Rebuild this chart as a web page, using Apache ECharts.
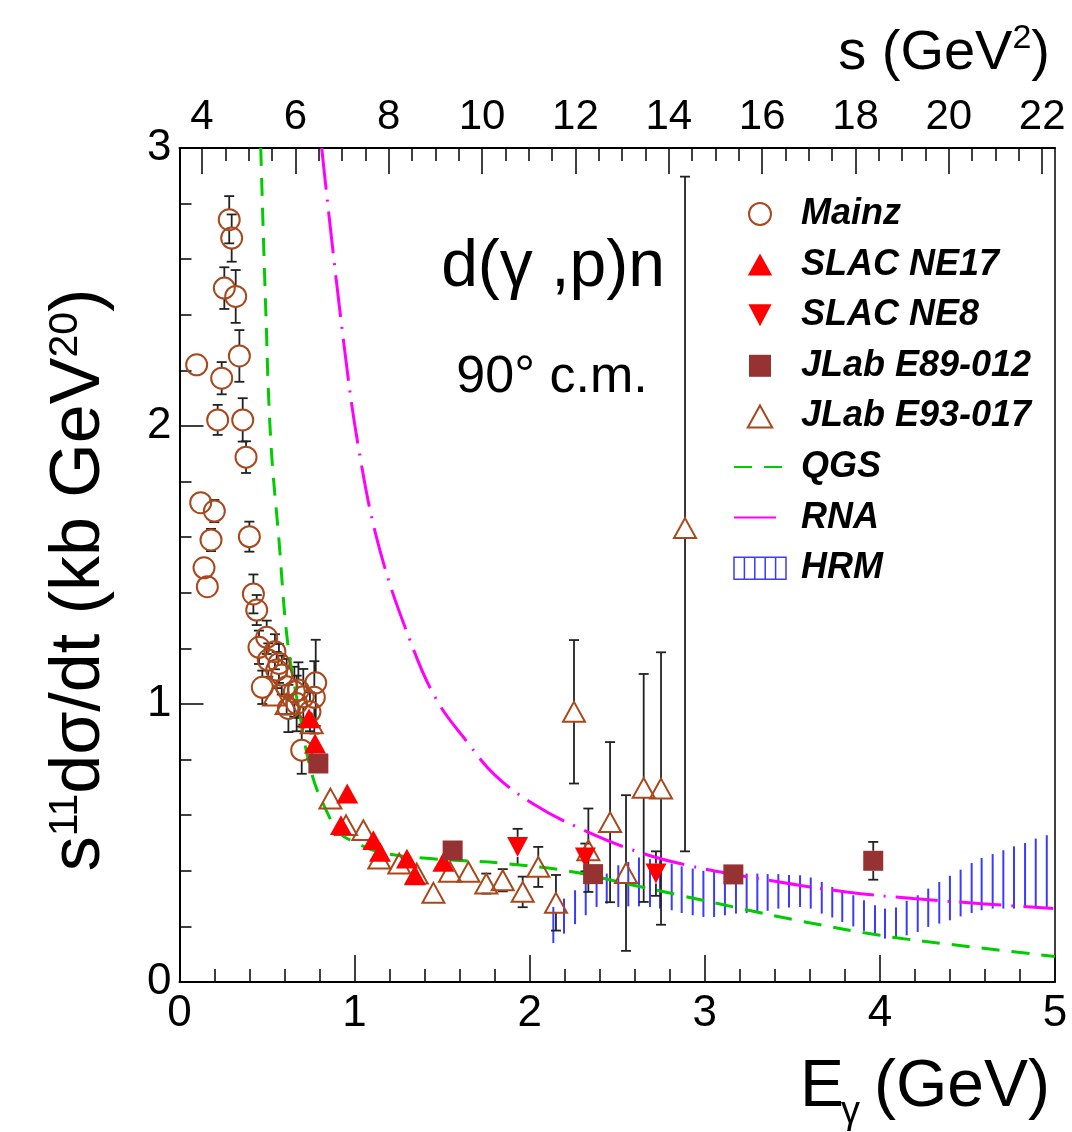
<!DOCTYPE html>
<html>
<head>
<meta charset="utf-8">
<script src="https://cdn.jsdelivr.net/npm/echarts@6/dist/echarts.min.js"></script>
<style>
html,body{margin:0;padding:0;background:#fff;}
#chart{width:1072px;height:1132px;}
</style>
</head>
<body>
<div id="chart"></div>
<script>
// ---------------- DATA ----------------
// Mainz (open circles): photon energy (GeV), value, error
const mainzE   = [0.098,0.121,0.140,0.159,0.180,0.199,0.218,0.241,0.256,0.284,0.298,0.321,0.342,0.361,0.380,0.399,0.422,0.441,0.454,0.473,0.498,0.507,0.545,0.555,0.568,0.584,0.612,0.622,0.656,0.669,0.679,0.707,0.698,0.745,0.770,0.778];
const mainzY   = [2.220,1.724,1.490,1.422,1.590,1.694,2.022,2.172,2.496,2.742,2.676,2.466,2.252,2.022,1.888,1.602,1.396,1.338,1.204,1.060,1.240,1.158,1.188,1.122,1.146,1.104,1.062,0.984,1.044,1.002,1.050,1.026,0.834,0.972,1.024,1.076];
const mainzErr = [0.02,0.02,0.02,0.02,0.04,0.04,0.054,0.058,0.075,0.085,0.085,0.095,0.093,0.078,0.057,0.054,0.07,0.054,0.06,0.06,0.06,0.06,0.063,0.065,0.07,0.07,0.1,0.085,0.09,0.1,0.1,0.1,0.085,0.07,0.13,0.155];

// SLAC NE17 (filled up triangles)
const ne17E = [0.740,0.774,0.922,0.958,1.107,1.145,1.299,1.345,1.507];
const ne17Y = [0.948,0.858,0.564,0.678,0.510,0.468,0.444,0.384,0.432];

// SLAC NE8 (filled down triangles)
const ne8E   = [1.931,2.318,2.721];
const ne8Y   = [0.486,0.448,0.390];
const ne8Err = [0.065,0.05,0.08];

// JLab E89-012 (filled squares)
const e89E   = [0.793,1.560,2.362,3.163,3.962];
const e89Y   = [0.786,0.473,0.388,0.387,0.436];
const e89Err = [0.03,0.03,0.03,0.03,0.068];

// JLab E93-017 (open triangles): value, lower error, upper error
const e93E     = [0.540,0.612,0.755,0.862,0.951,1.050,1.141,1.255,1.355,1.450,1.545,1.650,1.752,1.846,1.960,2.049,2.150,2.253,2.335,2.459,2.550,2.651,2.750,2.887];
const e93Y     = [1.030,1.000,0.930,0.660,0.564,0.546,0.444,0.426,0.390,0.321,0.396,0.396,0.354,0.366,0.324,0.414,0.285,0.972,0.474,0.575,0.392,0.698,0.696,1.633];
const e93ErrLo = [0.03,0.03,0.03,0.03,0.03,0.03,0.03,0.03,0.03,0.03,0.03,0.03,0.036,0.04,0.055,0.072,0.10,0.258,0.15,0.288,0.28,0.41,0.49,1.163];
const e93ErrHi = [0.03,0.03,0.03,0.03,0.03,0.03,0.03,0.03,0.03,0.03,0.03,0.03,0.036,0.04,0.055,0.072,0.10,0.258,0.15,0.288,0.28,0.41,0.49,1.264];

// QGS curve
const qgsE = [0.464,0.492,0.521,0.568,0.616,0.679,0.755,0.840,0.917,1.012,1.107,1.250,1.431,1.630,1.830,2.211,2.592,2.858,3.200,3.525,4.000,4.500,5.000];
const qgsY = [3.000,2.430,1.950,1.590,1.230,0.990,0.750,0.615,0.534,0.500,0.474,0.455,0.444,0.436,0.428,0.400,0.348,0.312,0.265,0.222,0.168,0.128,0.092];

// RNA curve
const rnaE = [0.812,0.936,1.031,1.146,1.316,1.469,1.640,1.800,2.021,2.268,2.592,2.900,3.363,3.810,4.191,4.600,4.990];
const rnaY = [3.000,2.310,1.890,1.550,1.230,1.014,0.866,0.745,0.640,0.558,0.474,0.420,0.366,0.324,0.300,0.281,0.264];

// HRM band (hatched by vertical lines): energy, lower edge, upper edge
const hrmE  = [2.135,2.196,2.259,2.320,2.382,2.440,2.506,2.563,2.624,2.687,2.744,2.811,2.868,2.931,2.992,3.053,3.115,3.178,3.239,3.300,3.359,3.420,3.481,3.544,3.605,3.668,3.728,3.785,3.848,3.909,3.972,4.029,4.092,4.153,4.216,4.276,4.339,4.400,4.461,4.524,4.581,4.644,4.705,4.766,4.829,4.890,4.953];
const hrmLo = [0.140,0.174,0.208,0.240,0.270,0.282,0.270,0.272,0.272,0.270,0.264,0.258,0.248,0.240,0.234,0.234,0.240,0.246,0.248,0.252,0.256,0.264,0.268,0.270,0.264,0.246,0.232,0.216,0.200,0.184,0.168,0.156,0.160,0.168,0.180,0.198,0.210,0.222,0.236,0.248,0.258,0.264,0.264,0.264,0.268,0.270,0.270];
const hrmHi = [0.270,0.300,0.330,0.354,0.378,0.390,0.420,0.432,0.448,0.442,0.438,0.426,0.416,0.408,0.400,0.396,0.384,0.378,0.390,0.390,0.388,0.388,0.385,0.384,0.376,0.360,0.342,0.324,0.312,0.294,0.276,0.264,0.268,0.292,0.312,0.336,0.360,0.382,0.404,0.428,0.446,0.460,0.474,0.488,0.500,0.516,0.528];

// Axis ticks
const xTicks = [0,1,2,3,4,5];
const yTicks = [0,1,2,3];
const sRange = [3.518, 22.274];          // s = m_d^2 + 2 m_d E at E = 0 and E = 5 GeV
const sMajorTicks = [4,6,8,10,12,14,16,18,20,22];
const sMinorTicks = [4.5,5,5.5,6.5,7,7.5,8.5,9,9.5,10.5,11,11.5,12.5,13,13.5,14.5,15,15.5,16.5,17,17.5,18.5,19,19.5,20.5,21,21.5];

// ---------------- CHART ----------------
const FONT = "'Liberation Sans', Arial, Helvetica, sans-serif";
const BROWN = '#a8481c';
const RED = '#ff0000';
const SQ = '#963232';
const GREEN = '#00cc00';
const MAGENTA = '#ff00ff';
const BLUE = '#3b3bff';
const BAR = '#222222';

const UP_TRI = 'path://M10,0L20,18L0,18Z';
const DOWN_TRI = 'path://M0,0L20,0L10,19Z';
const SQUARE = 'path://M0,0H20V20H0Z';

const zip2 = (a, b) => a.map((v, i) => [v, b[i]]);

function errRender(params, api) {
  const x = api.value(0), yc = api.value(1), lo = api.value(2), hi = api.value(3);
  const pc = api.coord([x, yc]);
  const pl = api.coord([x, lo]);
  const ph = api.coord([x, hi]);
  const gap = 10, cap = 5;
  const st = { stroke: BAR, lineWidth: 1.8 };
  const ch = [];
  if (ph[1] < pc[1] - gap) {
    ch.push({ type: 'line', shape: { x1: pc[0], y1: pc[1] - gap, x2: ph[0], y2: ph[1] }, style: st });
    ch.push({ type: 'line', shape: { x1: ph[0] - cap, y1: ph[1], x2: ph[0] + cap, y2: ph[1] }, style: st });
  }
  if (pl[1] > pc[1] + gap) {
    ch.push({ type: 'line', shape: { x1: pc[0], y1: pc[1] + gap, x2: pl[0], y2: pl[1] }, style: st });
    ch.push({ type: 'line', shape: { x1: pl[0] - cap, y1: pl[1], x2: pl[0] + cap, y2: pl[1] }, style: st });
  }
  return { type: 'group', children: ch };
}

function hrmRender(params, api) {
  const x = api.value(0);
  const pl = api.coord([x, api.value(1)]);
  const ph = api.coord([x, api.value(2)]);
  return { type: 'line', shape: { x1: pl[0], y1: pl[1], x2: ph[0], y2: ph[1] }, style: { stroke: BLUE, lineWidth: 2 } };
}

const errData = (E, Y, lo, hi) => E.map((e, i) => [e, Y[i], Y[i] - lo[i], Y[i] + hi[i]]);

const axisLineStyle = { color: '#000', width: 2 };
const tickStyle = { color: '#000', width: 1.5 };
const hiddenDot = { color: 'rgba(0,0,0,0)', borderWidth: 0 };

const option = {
  animation: false,
  backgroundColor: '#fff',
  grid: { left: 179.5, right: 17, top: 148, bottom: 150, containLabel: false },
  xAxis: [
    {
      type: 'value', min: xTicks[0], max: xTicks[xTicks.length - 1], interval: 1, position: 'bottom',
      axisLine: { show: true, onZero: false, lineStyle: axisLineStyle },
      axisTick: { show: true, inside: true, length: 27, lineStyle: tickStyle },
      minorTick: { show: true, splitNumber: 5, length: 13, lineStyle: tickStyle },
      axisLabel: { show: true, fontSize: 44, color: '#000', fontFamily: FONT, margin: 10 },
      splitLine: { show: false }
    },
    {
      type: 'value', min: sRange[0], max: sRange[1], position: 'top',
      axisLine: { show: true, onZero: false, lineStyle: axisLineStyle },
      axisTick: { show: true, inside: true, length: 26, lineStyle: tickStyle, customValues: sMajorTicks },
      axisLabel: { show: true, fontSize: 42, color: '#000', fontFamily: FONT, margin: 10, customValues: sMajorTicks },
      splitLine: { show: false }
    },
    {
      type: 'value', min: sRange[0], max: sRange[1], position: 'top',
      axisLine: { show: false, onZero: false },
      axisTick: { show: true, inside: true, length: 13, lineStyle: tickStyle, customValues: sMinorTicks },
      axisLabel: { show: false },
      splitLine: { show: false }
    }
  ],
  yAxis: [
    {
      type: 'value', min: yTicks[0], max: yTicks[yTicks.length - 1], interval: 1, position: 'left',
      axisLine: { show: true, onZero: false, lineStyle: axisLineStyle },
      axisTick: { show: true, inside: true, length: 24, lineStyle: tickStyle },
      minorTick: { show: true, splitNumber: 5, length: 12, lineStyle: tickStyle },
      axisLabel: { show: true, fontSize: 44, color: '#000', fontFamily: FONT, margin: 8 },
      splitLine: { show: false }
    },
    {
      type: 'value', min: yTicks[0], max: yTicks[yTicks.length - 1], position: 'right',
      axisLine: { show: true, onZero: false, lineStyle: { color: '#000', width: 1.5 } },
      axisTick: { show: false }, axisLabel: { show: false }, splitLine: { show: false }
    }
  ],
  legend: {
    orient: 'vertical', left: 733, top: 196, padding: 0,
    itemWidth: 52, itemHeight: 22, itemGap: 14.6,
    symbolKeepAspect: true,
    formatter: ' {name}',
    textStyle: { fontSize: 36, fontWeight: 'bold', fontStyle: 'italic', color: '#000', fontFamily: FONT },
    data: [
      { name: 'Mainz' },
      { name: 'SLAC NE17', icon: UP_TRI },
      { name: 'SLAC NE8', icon: DOWN_TRI },
      { name: 'JLab E89-012', icon: SQUARE },
      { name: 'JLab E93-017', icon: UP_TRI },
      { name: 'QGS', itemStyle: hiddenDot },
      { name: 'RNA', itemStyle: hiddenDot },
      { name: 'HRM', icon: 'path://M0,0H52V22H0ZM10.4,0V22M20.8,0V22M31.2,0V22M41.6,0V22',
        itemStyle: { color: 'rgba(0,0,0,0)', borderColor: BLUE, borderWidth: 1.5 } }
    ]
  },
  graphic: [
    { type: 'text', x: 80, y: 580, rotation: Math.PI / 2,
      style: { text: '{m|s}{s|11}{m|dσ/dt (kb GeV}{s|20}{m|)}', align: 'center', verticalAlign: 'middle',
        rich: { m: { fontSize: 70, fontFamily: FONT, fill: '#000', lineHeight: 70, verticalAlign: 'bottom' },
                s: { fontSize: 41, fontFamily: FONT, fill: '#000', lineHeight: 70, verticalAlign: 'top' } } } },
    { type: 'text', x: 1050, y: 1088, style: { text: '(GeV)', font: '66px ' + FONT, fill: '#000', align: 'right', verticalAlign: 'middle' } },
    { type: 'text', x: 800, y: 1088, style: { text: 'E', font: '66px ' + FONT, fill: '#000', align: 'left', verticalAlign: 'middle' } },
    { type: 'text', x: 841, y: 1113, style: { text: 'γ', font: '38px ' + FONT, fill: '#000', align: 'left', verticalAlign: 'middle' } },
    { type: 'text', x: 1050, y: 52, style: { text: '{m|s (GeV}{s|2}{m|)}', align: 'right', verticalAlign: 'middle',
        rich: { m: { fontSize: 56, fontFamily: FONT, fill: '#000', lineHeight: 60, verticalAlign: 'bottom' },
                s: { fontSize: 34, fontFamily: FONT, fill: '#000', lineHeight: 60, verticalAlign: 'top' } } } },
    { type: 'text', x: 553, y: 268, style: { text: 'd(γ ,p)n', font: '66px ' + FONT, fill: '#000', align: 'center', verticalAlign: 'middle' } },
    { type: 'text', x: 552, y: 378, style: { text: '90° c.m.', font: '52px ' + FONT, fill: '#000', align: 'center', verticalAlign: 'middle' } }
  ],
  series: [
    { type: 'custom', name: 'HRM', renderItem: hrmRender, z: 1,
      itemStyle: { color: BLUE },
      encode: { x: 0, y: [1, 2] },
      data: hrmE.map((e, i) => [e, hrmLo[i], hrmHi[i]]) },
    { type: 'custom', name: 'errMainz', renderItem: errRender, z: 2, encode: { x: 0, y: [1, 2, 3] },
      data: errData(mainzE, mainzY, mainzErr, mainzErr) },
    { type: 'custom', name: 'errE93', renderItem: errRender, z: 2, encode: { x: 0, y: [1, 2, 3] },
      data: errData(e93E, e93Y, e93ErrLo, e93ErrHi) },
    { type: 'custom', name: 'errNE8', renderItem: errRender, z: 2, encode: { x: 0, y: [1, 2, 3] },
      data: errData(ne8E, ne8Y, ne8Err, ne8Err) },
    { type: 'custom', name: 'errE89', renderItem: errRender, z: 2, encode: { x: 0, y: [1, 2, 3] },
      data: errData(e89E, e89Y, e89Err, e89Err) },
    { type: 'line', name: 'QGS', data: zip2(qgsE, qgsY), symbol: 'none', smooth: 0.4, z: 3,
      lineStyle: { color: GREEN, width: 3, type: [18, 12] }, itemStyle: { color: GREEN } },
    { type: 'line', name: 'RNA', data: zip2(rnaE, rnaY), symbol: 'none', smooth: 0.4, z: 3,
      lineStyle: { color: MAGENTA, width: 3, type: [42, 10, 2, 10] }, itemStyle: { color: MAGENTA } },
    { type: 'scatter', name: 'Mainz', data: zip2(mainzE, mainzY), symbol: 'circle', symbolSize: 21, z: 4,
      itemStyle: { color: 'rgba(0,0,0,0)', borderColor: BROWN, borderWidth: 2, opacity: 1 } },
    { type: 'scatter', name: 'JLab E93-017', data: zip2(e93E, e93Y), symbol: UP_TRI, symbolSize: 22, z: 4,
      symbolKeepAspect: true,
      itemStyle: { color: 'rgba(0,0,0,0)', borderColor: BROWN, borderWidth: 2, opacity: 1 } },
    { type: 'scatter', name: 'SLAC NE17', data: zip2(ne17E, ne17Y), symbol: UP_TRI, symbolSize: 22, z: 5,
      symbolKeepAspect: true,
      itemStyle: { color: RED, opacity: 1 } },
    { type: 'scatter', name: 'SLAC NE8', data: zip2(ne8E, ne8Y), symbol: DOWN_TRI, symbolSize: 21, z: 5,
      symbolKeepAspect: true,
      itemStyle: { color: RED, opacity: 1 } },
    { type: 'scatter', name: 'JLab E89-012', data: zip2(e89E, e89Y), symbol: 'rect', symbolSize: 20, z: 5,
      itemStyle: { color: SQ, opacity: 1 } }
  ]
};

const chart = echarts.init(document.getElementById('chart'), null, { renderer: 'canvas' });
chart.setOption(option);
</script>
</body>
</html>
